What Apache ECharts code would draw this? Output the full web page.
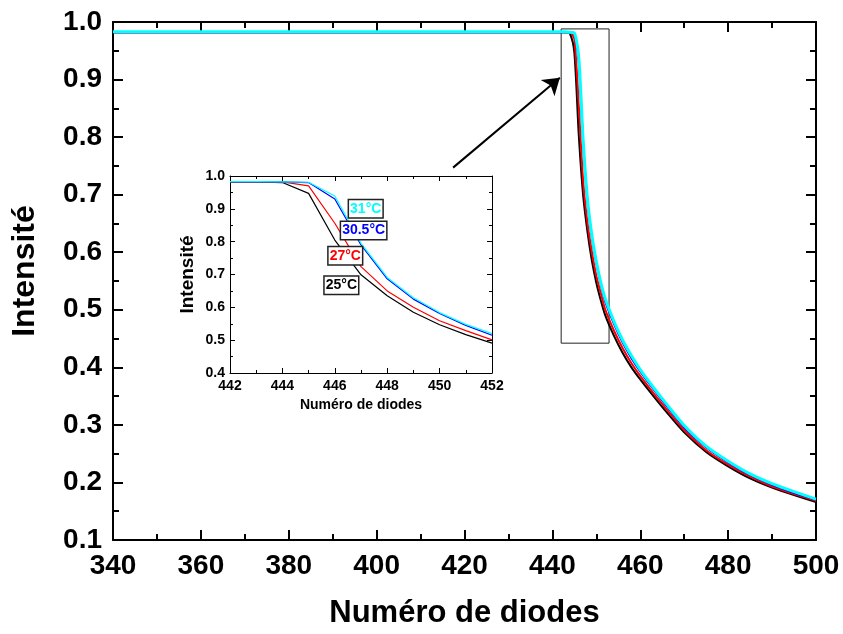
<!DOCTYPE html>
<html>
<head>
<meta charset="utf-8">
<script src="https://cdn.jsdelivr.net/npm/echarts@6/dist/echarts.min.js"></script>
<style>html,body{margin:0;padding:0;background:#fff}#c{width:843px;height:634px}</style>
</head>
<body>
<div id="c"></div>
<script>
const diodes = [340, 360, 380, 400, 420, 440, 442, 443, 444, 445, 446, 447, 448, 449, 450, 451, 452, 454, 456, 458, 460, 463, 466, 470, 475, 480, 485, 490, 495, 500];
const t25 = [0.982,0.982,0.982,0.982,0.982,0.982, 0.982,0.982,0.980,0.947,0.805,0.699,0.635,0.585,0.547,0.517,0.491, 0.455,0.425,0.400,0.379,0.350,0.322,0.287,0.253,0.228,0.207,0.191,0.178,0.166];
const t27 = [0.982,0.982,0.982,0.982,0.982,0.982, 0.982,0.982,0.982,0.970,0.856,0.724,0.650,0.600,0.559,0.529,0.501, 0.464,0.433,0.407,0.385,0.355,0.327,0.291,0.256,0.231,0.210,0.193,0.180,0.168];
const t305 = [0.982,0.982,0.982,0.982,0.982,0.982, 0.982,0.982,0.982,0.980,0.930,0.790,0.687,0.625,0.581,0.545,0.515, 0.476,0.443,0.416,0.393,0.362,0.333,0.296,0.261,0.235,0.213,0.196,0.182,0.170];
const t31 = [0.983,0.983,0.983,0.983,0.983,0.983, 0.983,0.983,0.982,0.981,0.939,0.795,0.691,0.629,0.584,0.548,0.520, 0.480,0.447,0.420,0.396,0.365,0.336,0.299,0.263,0.237,0.215,0.198,0.184,0.171];
const seriesNames = ['25°C', '27°C', '30.5°C', '31°C'];
const seriesColors = ['#000000', '#ff0000', '#0000ff', '#00ffff'];
const seriesValues = [t25, t27, t305, t31];
// label anchor positions in inset data space
const labelPos = [[446.25, 0.667], [446.4, 0.757], [447.1, 0.834], [447.18, 0.9]];
// zoom rectangle and arrow in main data space
const zoomBox = [[442, 0.988], [452.9, 0.442]];
const arrowLine = [[417.4, 0.747], [441.7, 0.903]];
const xTicksMain = [340, 500, 20];
const yTicksMain = [0.1, 1.0, 0.1];
const xTicksInset = [442, 452, 2];
const yTicksInset = [0.4, 1.0, 0.1];

const F = 'Liberation Sans, Arial, sans-serif';
function pairs(vals, lo, hi) {
  const out = [];
  diodes.forEach((d, i) => { if (d >= lo && d <= hi) out.push([d, vals[i]]); });
  return out;
}
function axisBase(range, opts) {
  return Object.assign({
    type: 'value', min: range[0], max: range[1], interval: range[2],
    axisLine: { show: true, onZero: false, lineStyle: { color: '#000', width: opts.lw } },
    axisTick: { show: true, inside: true, length: opts.tl, lineStyle: { color: '#000', width: opts.lw } },
    minorTick: { show: true, splitNumber: 2, length: opts.ml, lineStyle: { color: '#000', width: opts.lw } },
    splitLine: { show: false },
    axisLabel: { show: false }
  }, opts.extra || {});
}
const chart = echarts.init(document.getElementById('c'), null, { renderer: 'canvas' });
const series = [];
seriesValues.forEach((vals, k) => {
  const s = {
    type: 'line', name: seriesNames[k], xAxisIndex: 0, yAxisIndex: 0,
    data: pairs(vals, 340, 500), showSymbol: false, smooth: 0.25,
    lineStyle: { color: seriesColors[k], width: k === 3 ? 3 : 2 }, z: 3 + k
  };
  if (k === 0) {
    s.markArea = {
      silent: true,
      itemStyle: { color: 'rgba(0,0,0,0)', borderColor: '#222', borderWidth: 1 },
      data: [[{ coord: zoomBox[0] }, { coord: zoomBox[1] }]]
    };
    s.markLine = {
      silent: true, symbol: ['none', 'arrow'], symbolSize: 16,
      lineStyle: { color: '#000', width: 2, type: 'solid' }, label: { show: false },
      data: [[{ coord: arrowLine[0] }, { coord: arrowLine[1] }]]
    };
  }
  series.push(s);
});
seriesValues.forEach((vals, k) => {
  series.push({
    type: 'line', name: seriesNames[k] + ' inset', xAxisIndex: 2, yAxisIndex: 2,
    data: pairs(vals, 442, 452), showSymbol: false,
    lineStyle: { color: seriesColors[k], width: 1.2 }, z: 10 + k
  });
});
const mainLbl = { show: true, color: '#000', fontFamily: F, fontWeight: 'bold', fontSize: 28 };
const insetLbl = { show: true, color: '#000', fontFamily: F, fontWeight: 'bold', fontSize: 14 };
chart.setOption({
  animation: false,
  backgroundColor: '#fff',
  grid: [
    { left: 113, top: 22, right: 27, bottom: 93 },
    { left: 230, top: 176, width: 262, height: 197, show: true, backgroundColor: '#fff', borderWidth: 0, z: 8 }
  ],
  xAxis: [
    axisBase(xTicksMain, { lw: 2, tl: 10, ml: 6, extra: { gridIndex: 0, position: 'bottom',
      axisLabel: Object.assign({ margin: 12 }, mainLbl),
      name: 'Numéro de diodes', nameLocation: 'middle', nameGap: 58,
      nameTextStyle: { color: '#000', fontFamily: F, fontWeight: 'bold', fontSize: 31 } } }),
    axisBase(xTicksMain, { lw: 2, tl: 10, ml: 6, extra: { gridIndex: 0, position: 'top' } }),
    axisBase(xTicksInset, { lw: 1, tl: 5, ml: 3, extra: { gridIndex: 1, position: 'bottom', z: 9,
      axisLabel: Object.assign({ margin: 6 }, insetLbl),
      name: 'Numéro de diodes', nameLocation: 'middle', nameGap: 25,
      nameTextStyle: { color: '#000', fontFamily: F, fontWeight: 'bold', fontSize: 14 } } }),
    axisBase(xTicksInset, { lw: 1, tl: 5, ml: 3, extra: { gridIndex: 1, position: 'top', z: 9 } })
  ],
  yAxis: [
    axisBase(yTicksMain, { lw: 2, tl: 10, ml: 6, extra: { gridIndex: 0, position: 'left',
      axisLabel: Object.assign({ margin: 11, formatter: v => v.toFixed(1) }, mainLbl),
      name: 'Intensité', nameLocation: 'middle', nameGap: 72,
      nameTextStyle: { color: '#000', fontFamily: F, fontWeight: 'bold', fontSize: 32, padding: [0, 0, 0, 20] } } }),
    axisBase(yTicksMain, { lw: 2, tl: 10, ml: 6, extra: { gridIndex: 0, position: 'right' } }),
    axisBase(yTicksInset, { lw: 1, tl: 5, ml: 3, extra: { gridIndex: 1, position: 'left', z: 9,
      axisLabel: Object.assign({ margin: 5, formatter: v => v.toFixed(1) }, insetLbl),
      name: 'Intensité', nameLocation: 'middle', nameGap: 33,
      nameTextStyle: { color: '#000', fontFamily: F, fontWeight: 'bold', fontSize: 19 } } }),
    axisBase(yTicksInset, { lw: 1, tl: 5, ml: 3, extra: { gridIndex: 1, position: 'right', z: 9 } })
  ],
  series: series
});
// temperature tags placed through the inset's own axes
const tags = labelPos.map((c, k) => {
  const p = chart.convertToPixel({ xAxisIndex: 2, yAxisIndex: 2 }, c);
  return {
    type: 'text', x: p[0], y: p[1], z: 100, silent: true,
    style: {
      text: seriesNames[k], fill: seriesColors[k],
      font: 'bold 14px ' + F, align: 'center', verticalAlign: 'middle',
      backgroundColor: '#fff', borderColor: '#222', borderWidth: 1.5, padding: [2, 1, 1, 1]
    }
  };
});
chart.setOption({ graphic: tags });
</script>
</body>
</html>
